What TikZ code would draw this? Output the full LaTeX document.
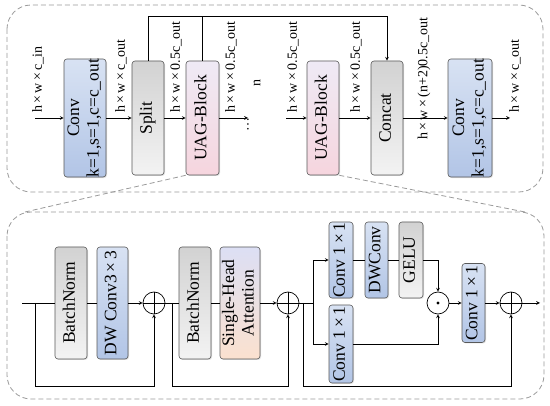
\documentclass[tikz,border=0pt]{standalone}
\usepackage{fontspec}
\setmainfont{Liberation Serif}
\usetikzlibrary{shadows}

\definecolor{cblueT}{HTML}{D8E2F3}
\definecolor{cblueB}{HTML}{B2C5E6}
\definecolor{cgrayT}{HTML}{D2D2D2}
\definecolor{cgrayB}{HTML}{F3F3F3}
\definecolor{cpinkT}{HTML}{EFEAF5}
\definecolor{cpinkB}{HTML}{F6D5DE}
\definecolor{cpeachT}{HTML}{DCDFF4}
\definecolor{cpeachB}{HTML}{FBE1CF}
\definecolor{cpanel}{HTML}{9A9A9A}

\newcommand{\rottext}[1]{\rotatebox{90}{\begin{tabular}{@{}c@{}}#1\end{tabular}}}
\newcommand{\tx}{\,×\,}

\begin{document}
\begin{tikzpicture}[x=1pt, y=-1pt, >=stealth, line width=0.7pt,
    blk/.style={draw=black!65, line width=0.6pt, rounded corners=3pt, inner sep=0pt,
        font=\fontsize{17.5}{19.5}\selectfont,
        drop shadow={shadow xshift=1pt, shadow yshift=-1pt, opacity=0.25}},
    bluebox/.style={blk, top color=cblueT, bottom color=cblueB},
    graybox/.style={blk, top color=cgrayT, bottom color=cgrayB},
    pinkbox/.style={blk, top color=cpinkT, bottom color=cpinkB},
    peachbox/.style={blk, top color=cpeachT, bottom color=cpeachB},
    lbl/.style={rotate=90, anchor=west, inner sep=1pt, font=\fontsize{14}{16}\selectfont},
    opplus/.style={circle, draw, minimum size=22pt, inner sep=0pt,
        path picture={\draw (path picture bounding box.north) -- (path picture bounding box.south)
            (path picture bounding box.west) -- (path picture bounding box.east);}},
    opdot/.style={circle, draw, minimum size=22pt, inner sep=0pt,
        path picture={\fill (path picture bounding box.center) circle (1.6pt);}},
    panel/.style={draw=cpanel, line width=0.8pt, dash pattern=on 5pt off 3pt}]
    \useasboundingbox (0,0) rectangle (550,406);

    % upper panel
    \draw[panel, rounded corners=24pt] (7,5) rectangle (543,192);
    \node[bluebox, minimum width=42pt, minimum height=114pt] (conv1) at (85,118) {\rottext{Conv\\k=1,s=1,c=c\_out}};
    \node[graybox, minimum width=32pt, minimum height=114pt] (split) at (148,118) {\rottext{Split}};
    \node[pinkbox, minimum width=33pt, minimum height=114pt] (uag1) at (202.5,118) {\rottext{UAG-Block}};
    \node[pinkbox, minimum width=32pt, minimum height=114pt] (uag2) at (323,118) {\rottext{UAG-Block}};
    \node[graybox, minimum width=32pt, minimum height=114pt] (concat) at (387,118) {\rottext{Concat}};
    \node[bluebox, minimum width=44pt, minimum height=114pt] (conv2) at (470,118) {\rottext{Conv\\k=1,s=1,c=c\_out}};

    \coordinate (tin) at (35,118);
    \coordinate (tdots) at (248,118);
    \coordinate (tback) at (286,118);
    \coordinate (tout) at (510,118);

    \draw[->] (tin) -- (conv1);
    \draw[->] (conv1) -- (split);
    \draw[->] (split) -- (uag1);
    \draw[->] (uag1) -- (tdots);
    \draw[->] (tback) -- (uag2);
    \draw[->] (uag2) -- (concat);
    \draw[->] (concat) -- (conv2);
    \draw[->] (conv2) -- (tout);
    \draw[->] (split.north) -- (split.north |- 0,16) -| (concat.north);
    \draw (uag1.north) -- (uag1.north |- 0,16);

    \node[lbl] (lin) at (38,114) {h\tx w\tx c\_in};
    \node[lbl] (lc1) at (121,114) {h\tx w\tx c\_out};
    \node[lbl] (lsp) at (176,114) {h\tx w\tx 0.5c\_out};
    \node[lbl] (lu1) at (231,114) {h\tx w\tx 0.5c\_out};
    \node[lbl, anchor=center] (ln) at (257,83) {n};
    \node[lbl, anchor=center] (ldots) at (248,125) {\dots};
    \node[lbl] (lu2) at (293,114) {h\tx w\tx 0.5c\_out};
    \node[lbl] (lcc) at (356,114) {h\tx w\tx 0.5c\_out};
    \node[lbl] (lcat) at (424,141) {h\tx w\tx (n+2)0.5c\_out};
    \node[lbl] (lout) at (515,114) {h\tx w\tx c\_out};

    % lower panel
    \draw[panel, rounded corners=24pt] (7,212) rectangle (544,399);
    \draw[panel] (uag1.south west) -- (25,212);
    \draw[panel] (uag2.south east) -- (525,212);

    \node[graybox, minimum width=32pt, minimum height=112pt] (bn1) at (71,303) {\rottext{BatchNorm}};
    \node[bluebox, minimum width=31pt, minimum height=112pt] (dw) at (112.5,303) {\rottext{DW Conv3\tx 3}};
    \node[opplus] (plus1) at (154,303) {};
    \node[graybox, minimum width=32pt, minimum height=112pt] (bn2) at (195,303) {\rottext{BatchNorm}};
    \node[peachbox, minimum width=40pt, minimum height=112pt] (sha) at (240,303) {\rottext{Single-Head\\Attention}};
    \node[opplus] (plus2) at (288,303) {};
    \node[bluebox, minimum width=24pt, minimum height=76pt] (c1) at (341,260) {\rottext{Conv 1\tx 1}};
    \node[bluebox, minimum width=23pt, minimum height=76pt] (dwc) at (376.5,260) {\rottext{DWConv}};
    \node[graybox, minimum width=24pt, minimum height=76pt] (gelu) at (411,260) {\rottext{GELU}};
    \node[bluebox, minimum width=24pt, minimum height=78pt] (c2) at (341,344) {\rottext{Conv 1\tx 1}};
    \node[opdot] (dot) at (438,303) {};
    \node[bluebox, minimum width=23pt, minimum height=79pt] (c3) at (473.5,303) {\rottext{Conv 1\tx 1}};
    \node[opplus] (plus3) at (511,303) {};

    \coordinate (bin) at (22,303);
    \coordinate (s1) at (35,303);
    \coordinate (s2) at (172,303);
    \coordinate (s3) at (303,303);
    \coordinate (s4) at (313,303);
    \coordinate (bout) at (540,303);

    \draw (bin) -- (bn1);
    \draw (bn1) -- (dw);
    \draw[->] (dw) -- (plus1);
    \draw (plus1) -- (bn2);
    \draw (bn2) -- (sha);
    \draw[->] (sha) -- (plus2);
    \draw (plus2) -- (s4);
    \draw[->] (s1) -- ++(0,83) -| (plus1.south);
    \draw[->] (s2) -- ++(0,83) -| (plus2.south);
    \draw[->] (s3) -- ++(0,83) -| (plus3.south);
    \draw[->] (s4) |- (c1.west);
    \draw[->] (s4) |- (c2.west);
    \draw (c1) -- (dwc);
    \draw (dwc) -- (gelu);
    \draw[->] (gelu.east) -| (dot.north);
    \draw[->] (c2.east) -| (dot.south);
    \draw[->] (dot) -- (c3);
    \draw[->] (c3) -- (plus3);
    \draw[->] (plus3) -- (bout);
\end{tikzpicture}
\end{document}
